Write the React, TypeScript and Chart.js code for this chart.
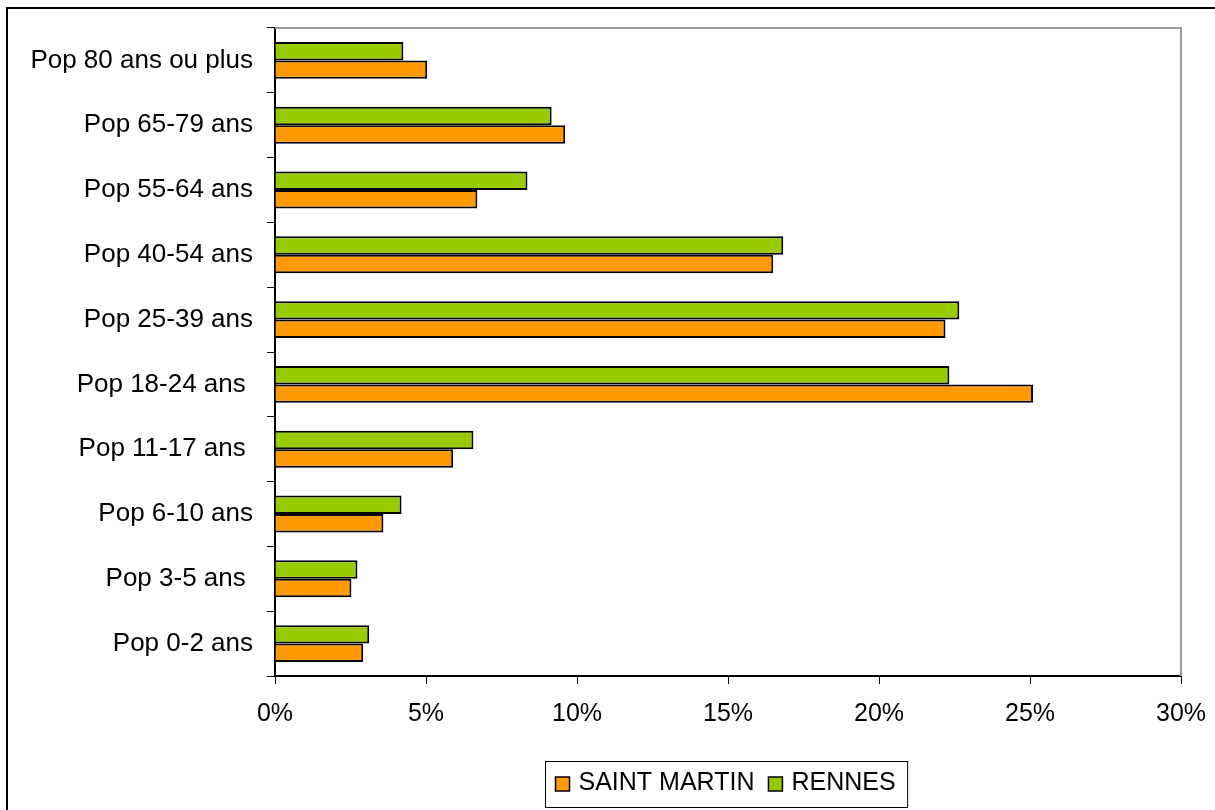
import React, { useEffect, useRef } from 'react';
import { Chart, registerables } from 'chart.js';

Chart.register(...registerables);

const categories = [
  'Pop 80 ans ou plus',
  'Pop 65-79 ans',
  'Pop 55-64 ans',
  'Pop 40-54 ans',
  'Pop 25-39 ans',
  'Pop 18-24 ans ',
  'Pop 11-17 ans ',
  'Pop 6-10 ans',
  'Pop 3-5 ans ',
  'Pop 0-2 ans',
];

const rennes = [4.25, 9.16, 8.36, 16.83, 22.66, 22.33, 6.57, 4.19, 2.73, 3.12];
const saintMartin = [5.04, 9.61, 6.7, 16.5, 22.2, 25.1, 5.9, 3.59, 2.53, 2.92];

const xMin = 0;
const xMax = 30;
const xStep = 5;

const FONT = "'Liberation Sans', Arial, sans-serif";

export default function App() {
  const ref = useRef<HTMLCanvasElement>(null);

  useEffect(() => {
    if (!ref.current) return;

    const frame = {
      id: 'plotFrame',
      beforeDatasetsDraw(chart: any) {
        const { ctx, chartArea: a } = chart;
        ctx.save();
        ctx.strokeStyle = '#9a9a9a';
        ctx.lineWidth = 2;
        ctx.beginPath();
        ctx.moveTo(a.left, a.top);
        ctx.lineTo(a.right, a.top);
        ctx.lineTo(a.right, a.bottom);
        ctx.stroke();
        ctx.restore();
      },
    };

    const boxLegend = {
      id: 'boxLegend',
      afterDraw(chart: any) {
        const ctx = chart.ctx;
        const items = chart.data.datasets.slice().reverse();
        ctx.save();
        ctx.font = `25px ${FONT}`;
        const box = 14;
        const gapBox = 9;
        const gapItem = 14;
        const padL = 10;
        const padR = 12;
        let w = padL + padR;
        items.forEach((d: any, i: number) => {
          w += box + gapBox + ctx.measureText(d.label).width + (i > 0 ? gapItem : 0);
        });
        const a = chart.chartArea;
        const cx = (a.left + a.right) / 2 - 1.5;
        const cy = 784;
        const h = 46;
        const x0 = Math.round(cx - w / 2) + 0.5;
        const y0 = Math.round(cy - h / 2) + 0.5;
        ctx.fillStyle = '#fff';
        ctx.fillRect(x0, y0, w, h);
        ctx.strokeStyle = '#000';
        ctx.lineWidth = 1;
        ctx.strokeRect(x0, y0, w, h);
        let x = x0 + padL;
        items.forEach((d: any, i: number) => {
          if (i > 0) x += gapItem;
          ctx.fillStyle = d.backgroundColor;
          ctx.fillRect(x, cy - 7, box, box);
          ctx.lineWidth = 1.5;
          ctx.strokeStyle = '#000';
          ctx.strokeRect(x, cy - 7, box, box);
          x += box + gapBox;
          ctx.fillStyle = '#000';
          ctx.textBaseline = 'middle';
          ctx.textAlign = 'left';
          ctx.fillText(d.label, x, cy - 1);
          x += ctx.measureText(d.label).width;
        });
        ctx.restore();
      },
    };

    const chart = new Chart(ref.current, {
      type: 'bar',
      data: {
        labels: categories,
        datasets: [
          {
            label: 'RENNES',
            data: rennes,
            backgroundColor: '#99CC00',
            borderColor: '#000',
            borderWidth: 2,
            categoryPercentage: 0.57,
            barPercentage: 1,
          },
          {
            label: 'SAINT MARTIN',
            data: saintMartin,
            backgroundColor: '#FF9900',
            borderColor: '#000',
            borderWidth: 2,
            categoryPercentage: 0.57,
            barPercentage: 1,
          },
        ],
      },
      options: {
        indexAxis: 'y',
        responsive: false,
        devicePixelRatio: 1,
        animation: false,
        layout: { padding: { left: 0, top: 28, right: 34, bottom: 0 } },
        plugins: {
          legend: { display: false },
          tooltip: { enabled: false },
        },
        scales: {
          y: {
            grid: {
              offset: true,
              drawOnChartArea: false,
              drawTicks: true,
              tickLength: 8,
              color: '#000',
              lineWidth: 1,
            },
            border: { color: '#000', width: 2 },
            ticks: {
              color: '#000',
              font: { family: FONT, size: 26 },
              padding: 14,
            },
            afterFit(s: any) {
              s.width = 275;
              s.paddingTop = 0;
              s.paddingBottom = 0;
            },
          },
          x: {
            min: xMin,
            max: xMax,
            ticks: {
              stepSize: xStep,
              callback: (v: any) => `${v}%`,
              color: '#000',
              font: { family: FONT, size: 25 },
              padding: 15,
              maxRotation: 0,
            },
            grid: {
              drawOnChartArea: false,
              drawTicks: true,
              tickLength: 8,
              color: '#000',
              lineWidth: 1,
            },
            border: { color: '#000', width: 2 },
            afterFit(s: any) {
              s.height = 134;
              s.paddingLeft = 0;
              s.paddingRight = 0;
            },
          },
        },
      } as any,
      plugins: [frame, boxLegend],
    });

    return () => chart.destroy();
  }, []);

  return (
    <div
      style={{
        position: 'absolute',
        left: 0,
        top: 0,
        width: 1215,
        height: 810,
        overflow: 'hidden',
        background: '#fff',
      }}
    >
      <div
        style={{
          position: 'absolute',
          left: 6,
          top: 7,
          width: 1400,
          height: 1000,
          borderLeft: '2px solid #000',
          borderTop: '2px solid #000',
        }}
      />
      <canvas
        ref={ref}
        width={1215}
        height={810}
        style={{ position: 'absolute', left: 0, top: 0, width: 1215, height: 810 }}
      />
    </div>
  );
}
